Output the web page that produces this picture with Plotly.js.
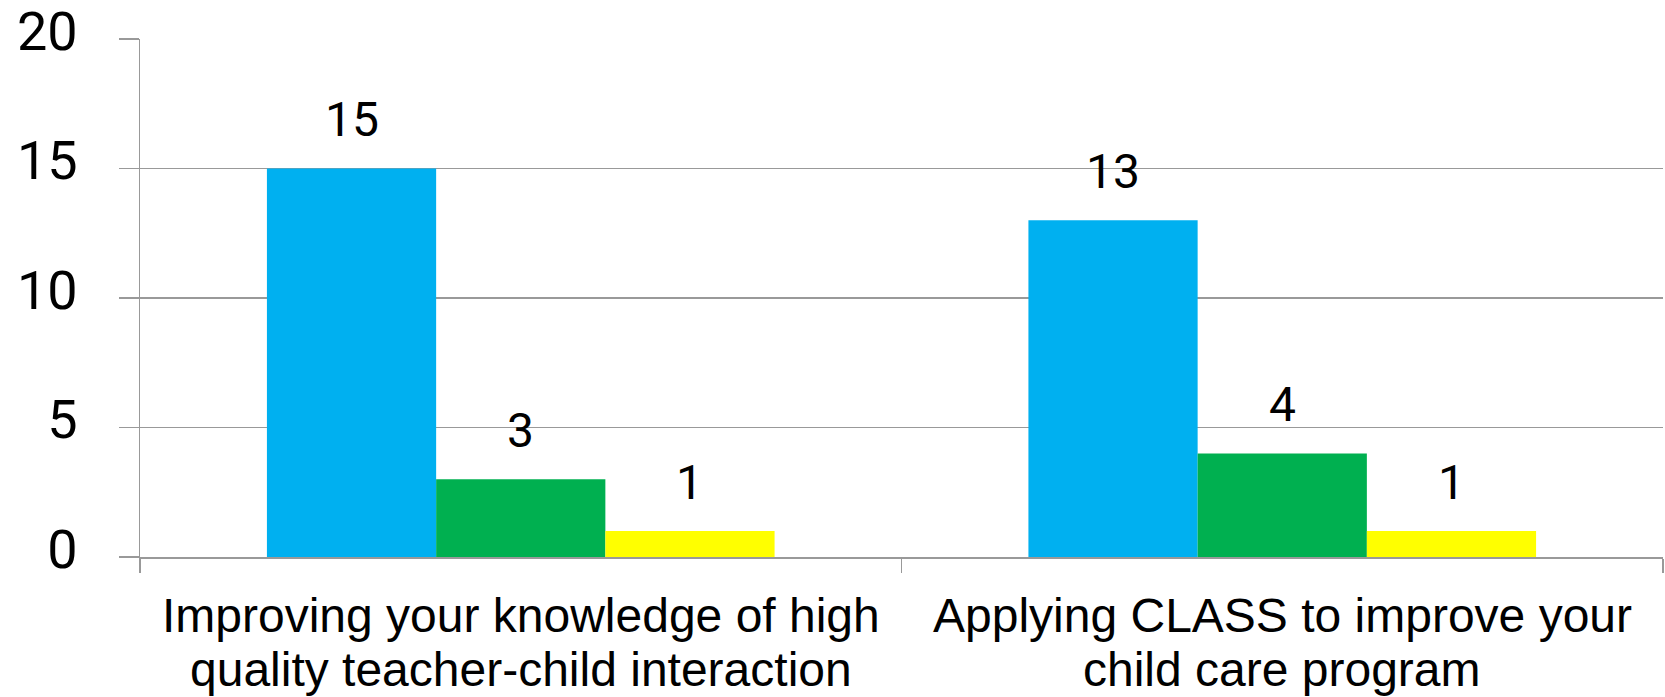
<!DOCTYPE html>
<html>
<head>
<meta charset="utf-8">
<script src="https://cdn.plot.ly/plotly-3.0.1.min.js"></script>
<style>html,body{margin:0;padding:0;background:#fff;}#chart{width:1665px;height:697px;}</style>
</head>
<body>
<div id="chart"></div>
<script>
const categories = ["Improving your knowledge of high quality teacher-child interaction", "Applying CLASS to improve your child care program"];
const labelLine1 = ["Improving your knowledge of high", "Applying CLASS to improve your"];
const labelLine2 = ["quality teacher-child interaction", "child care program"];
const seriesA = [15, 13];
const seriesB = [3, 4];
const seriesC = [1, 1];
const seriesColors = ["#00B0F0", "#00B050", "#FFFF00"];
const yTicks = [0, 5, 10, 15, 20];

const series = [seriesA, seriesB, seriesC];
const bargap = 1/3;
const barW = (1 - bargap) / series.length;

const traces = series.map((vals, i) => ({
  type: 'bar',
  x: categories,
  y: vals,
  marker: {color: seriesColors[i], line: {width: 0}},
  hoverinfo: 'skip'
}));

const annotations = [];
series.forEach((vals, i) => {
  const off = (i - (series.length - 1) / 2) * barW;
  vals.forEach((v, j) => {
    annotations.push({
      x: j + off, y: v, xref: 'x', yref: 'y',
      text: String(v), showarrow: false,
      yanchor: 'middle', xanchor: 'center', yshift: 49,
      font: {family: 'Roboto, Open Sans, sans-serif', size: 48, color: '#000'}
    });
  });
});

const catFont = {family: 'Liberation Sans, Arial, sans-serif', size: 48, color: '#000'};
categories.forEach((c, j) => {
  annotations.push({
    x: j, y: 0, xref: 'x', yref: 'paper', text: labelLine1[j], showarrow: false,
    xanchor: 'center', yanchor: 'middle', yshift: -58, font: catFont
  });
  annotations.push({
    x: j, y: 0, xref: 'x', yref: 'paper', text: labelLine2[j], showarrow: false,
    xanchor: 'center', yanchor: 'middle', yshift: -112, font: catFont
  });
});

const layout = {
  width: 1665, height: 697,
  margin: {l: 140, r: 2, t: 39, b: 140},
  paper_bgcolor: '#fff', plot_bgcolor: '#fff',
  barmode: 'group', bargap: bargap, bargroupgap: 0,
  showlegend: false,
  xaxis: {
    type: 'category',
    showgrid: false,
    showline: true, linecolor: '#999', linewidth: 1.5,
    ticks: 'outside', tickson: 'boundaries', ticklen: 14, tickcolor: '#999', tickwidth: 1.5,
    showticklabels: false,
    zeroline: false
  },
  yaxis: {
    range: [0, 20],
    tickvals: yTicks,
    ticktext: yTicks.map(String),
    showgrid: true, gridcolor: '#999', gridwidth: 1.5,
    showline: true, linecolor: '#999', linewidth: 1.5,
    ticks: 'outside', ticklen: 20, tickcolor: '#999', tickwidth: 1.5,
    tickfont: {family: 'Roboto, Open Sans, sans-serif', size: 54, color: '#000'},
    ticklabelstandoff: 30,
    ticklabelshift: -8,
    ticklabeloverflow: 'allow',
    zeroline: false
  },
  annotations: annotations
};

Plotly.newPlot('chart', traces, layout, {displayModeBar: false, staticPlot: true});
</script>
</body>
</html>
